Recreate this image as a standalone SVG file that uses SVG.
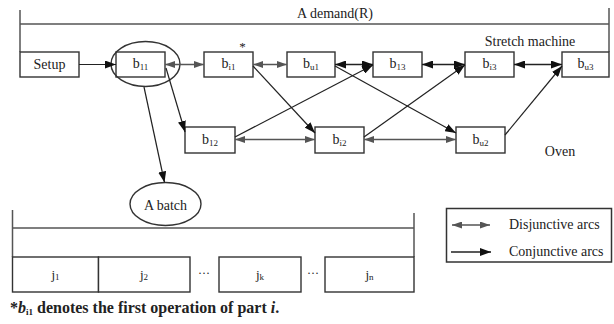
<svg xmlns="http://www.w3.org/2000/svg" width="614" height="324" viewBox="0 0 614 324">
<style>
text{font-family:"Liberation Serif","Times New Roman",serif;fill:#222;font-size:14px}
.lbl{text-anchor:middle}
.sub{font-size:9px}
.box{fill:#fff;stroke:#333;stroke-width:1.4}
.br{fill:none;stroke:#555;stroke-width:1.5}
.conj{fill:none;stroke:#222;stroke-width:1.2;marker-end:url(#ac)}
.disj{fill:none;stroke:#555;stroke-width:1.5;marker-start:url(#ad);marker-end:url(#ad)}
.disk{fill:none;stroke:#222;stroke-width:1.6;marker-start:url(#ak);marker-end:url(#ak)}
.ell{fill:none;stroke:#333;stroke-width:1.4}
</style>
<defs>
<marker id="ac" markerUnits="userSpaceOnUse" markerWidth="11" markerHeight="8" refX="11" refY="4" orient="auto"><path d="M0,0 L11,4 L0,8 z" fill="#111"/></marker>
<marker id="ad" markerUnits="userSpaceOnUse" markerWidth="10" markerHeight="7" refX="10" refY="3.5" orient="auto-start-reverse"><path d="M0,0 L10,3.5 L0,7 z" fill="#555"/></marker>
<marker id="ak" markerUnits="userSpaceOnUse" markerWidth="11" markerHeight="8" refX="11" refY="4" orient="auto-start-reverse"><path d="M0,0 L11,4 L0,8 z" fill="#111"/></marker>
</defs>

<g id="demand-bracket">
<path class="br" d="M20,10 V52 M609,8 V52 M20,24 H609"/>
<text class="lbl" x="335" y="18">A demand(R)</text>
<text class="lbl" x="530" y="45.5">Stretch machine</text>
<text class="lbl" x="560" y="156">Oven</text>
</g>

<g id="setup"><rect class="box" x="20" y="52" width="59" height="25"/><text class="lbl" x="49.5" y="69">Setup</text></g>
<g id="b11"><rect class="box" x="116" y="52" width="49" height="25"/><text class="lbl" x="140.5" y="68">b<tspan class="sub" dy="2">11</tspan></text><ellipse class="ell" cx="145.5" cy="64" rx="34.5" ry="22.5"/></g>
<g id="bi1"><rect class="box" x="204" y="52" width="49" height="25"/><text class="lbl" x="228.5" y="68">b<tspan class="sub" dy="2">i1</tspan></text><text x="242.5" y="51" class="lbl" style="font-size:13px">*</text></g>
<g id="bu1"><rect class="box" x="287" y="52" width="48" height="25"/><text class="lbl" x="311" y="68">b<tspan class="sub" dy="2">u1</tspan></text></g>
<g id="b13"><rect class="box" x="373" y="52" width="49" height="25"/><text class="lbl" x="397.5" y="68">b<tspan class="sub" dy="2">13</tspan></text></g>
<g id="bi3"><rect class="box" x="465" y="52" width="49" height="25"/><text class="lbl" x="489.5" y="68">b<tspan class="sub" dy="2">i3</tspan></text></g>
<g id="bu3"><rect class="box" x="562" y="52" width="47" height="25"/><text class="lbl" x="585.5" y="68">b<tspan class="sub" dy="2">u3</tspan></text></g>

<g id="b12"><rect class="box" x="185" y="127" width="50" height="26"/><text class="lbl" x="210" y="143.5">b<tspan class="sub" dy="2">12</tspan></text></g>
<g id="bi2"><rect class="box" x="315" y="127" width="49" height="26"/><text class="lbl" x="339.5" y="143.5">b<tspan class="sub" dy="2">i2</tspan></text></g>
<g id="bu2"><rect class="box" x="456" y="127" width="49" height="26"/><text class="lbl" x="480.5" y="143.5">b<tspan class="sub" dy="2">u2</tspan></text></g>

<g id="batch"><ellipse class="ell" cx="165.5" cy="204" rx="35.5" ry="21.5"/><text class="lbl" x="165.5" y="209.5">A batch</text></g>

<g id="batch-bracket">
<path class="br" d="M12.5,210 V257 M414,213 V257 M12.5,228 H414"/>
<rect class="box" x="12.5" y="257" width="86" height="35"/><text class="lbl" x="55.5" y="279" style="font-size:13px">j<tspan class="sub" dy="1">1</tspan></text>
<rect class="box" x="98.5" y="257" width="91.5" height="35"/><text class="lbl" x="144" y="279" style="font-size:13px">j<tspan class="sub" dy="1">2</tspan></text>
<text class="lbl" x="204" y="277" style="font-size:12px">···</text>
<rect class="box" x="219" y="257" width="82" height="35"/><text class="lbl" x="260" y="279" style="font-size:13px">j<tspan class="sub" dy="1">k</tspan></text>
<text class="lbl" x="313" y="277" style="font-size:12px">···</text>
<rect class="box" x="325" y="257" width="89" height="35"/><text class="lbl" x="369.5" y="279" style="font-size:13px">j<tspan class="sub" dy="1">n</tspan></text>
</g>

<g id="connectors">
<path class="conj" d="M79,64.5 L116,64.5"/>
<path class="disj" d="M165,64.5 L204,64.5"/>
<path class="disj" d="M253,64.5 L287,64.5"/>
<path class="disk" d="M335,64.5 L373,64.5"/>
<path class="disk" d="M422,64.5 L465,64.5"/>
<path class="disk" d="M514,64.5 L562,64.5"/>
<path class="conj" d="M166,68 L185,132"/>
<path class="conj" d="M144,87 L164.5,182.5"/>
<path class="conj" d="M253,66 L315,133"/>
<path class="conj" d="M335,66 L456,133"/>
<path class="conj" d="M235,137 L373,65"/>
<path class="conj" d="M364,137 L465,65"/>
<path class="conj" d="M505,135 L562,66"/>
<path class="disj" d="M235,139.5 L315,139.5"/>
<path class="disj" d="M364,139.5 L456,139.5"/>
</g>

<g id="legend">
<rect x="446.5" y="208.5" width="165" height="53.5" fill="#fff" stroke="#333" stroke-width="1.5"/>
<path class="disj" d="M452,225 L490,225"/>
<text x="509" y="229">Disjunctive arcs</text>
<path class="conj" d="M451,252 L491,252" style="stroke-width:1.5"/>
<text x="509" y="256">Conjunctive arcs</text>
</g>

<text x="10" y="313" style="font-weight:bold;font-size:16px">*<tspan font-style="italic">b</tspan><tspan class="sub" dy="2">i1</tspan><tspan dy="-2"> denotes the first operation of part </tspan><tspan font-style="italic">i</tspan>.</text>
</svg>
